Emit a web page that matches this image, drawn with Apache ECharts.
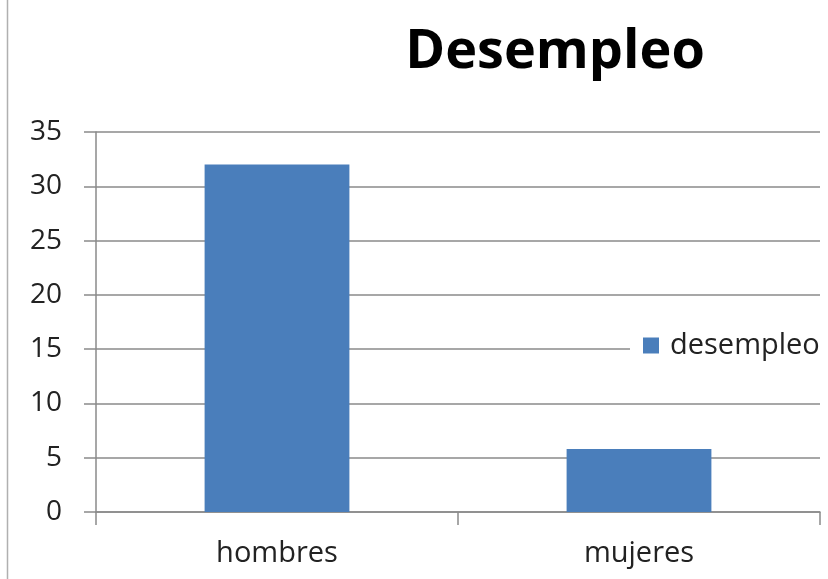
<!DOCTYPE html>
<html>
<head>
<meta charset="utf-8">
<script src="https://cdn.jsdelivr.net/npm/echarts@6/dist/echarts.min.js"></script>
<style>html,body{margin:0;padding:0;background:#fff}#c{width:828px;height:579px}</style>
</head>
<body>
<div id="c"></div>
<script>
var categories = ['hombres', 'mujeres'];
var desempleo = [32, 5.8];
var seriesName = 'desempleo';
var titleText = 'Desempleo';

var chart = echarts.init(document.getElementById('c'));
var gridColor = '#8a8a8a';
var fontFam = '"Open Sans", "Noto Sans", sans-serif';
chart.setOption({
  animation: false,
  backgroundColor: '#fff',
  title: {
    text: titleText,
    left: 550, top: 21, textAlign: 'center',
    textStyle: {fontFamily: fontFam, fontWeight: 'bold', fontSize: 54, color: '#000'}
  },
  legend: {
    data: [seriesName],
    left: 630, top: 327,
    padding: [4, 20, 4, 13],
    backgroundColor: '#fff',
    itemWidth: 16, itemHeight: 16,
    icon: 'rect',
    itemGap: 0,
    textStyle: {fontFamily: fontFam, fontSize: 29, color: '#222', padding: [0,0,0,6]}
  },
  grid: {left: 96, right: 8, top: 132, bottom: 67, containLabel: false},
  xAxis: {
    type: 'category',
    data: categories,
    axisLine: {lineStyle: {color: gridColor, width: 1.5}},
    axisTick: {show: true, length: 13, lineStyle: {color: gridColor, width: 1.5}},
    axisLabel: {fontFamily: fontFam, fontSize: 29, color: '#222', margin: 27}
  },
  yAxis: {
    type: 'value',
    min: 0, max: 35, interval: 5,
    axisLine: {show: true, lineStyle: {color: gridColor, width: 1.5}},
    axisTick: {show: true, length: 12, lineStyle: {color: gridColor, width: 1.5}},
    splitLine: {show: true, lineStyle: {color: gridColor, width: 1.5}},
    axisLabel: {fontFamily: fontFam, fontSize: 28, color: '#222', margin: 34}
  },
  series: [{
    name: seriesName,
    type: 'bar',
    data: desempleo,
    barWidth: '40%',
    itemStyle: {color: '#4a7ebb'}
  }],
  graphic: [{
    type: 'line',
    shape: {x1: 7.5, y1: 0, x2: 7.5, y2: 579},
    style: {stroke: '#b0b0b0', lineWidth: 1.5}
  }]
});
</script>
</body>
</html>
